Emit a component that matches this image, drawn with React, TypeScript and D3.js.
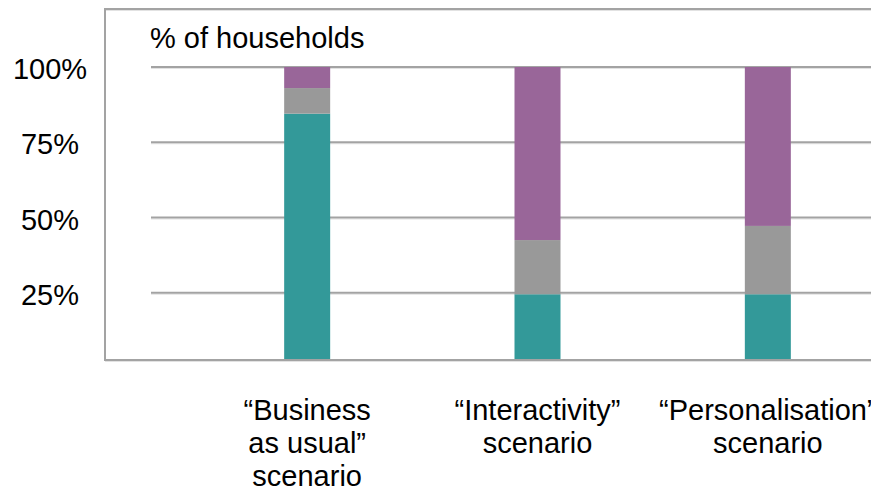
import React from "react";
import * as d3 from "d3";

const categories = ["bau", "interactivity", "personalisation"];
const categoryLabels = [
  ["\u201CBusiness", "as usual\u201D", "scenario"],
  ["\u201CInteractivity\u201D", "scenario"],
  ["\u201CPersonalisation\u201D", "scenario"],
];
const tealValues = [0.845, 0.245, 0.245];
const greyValues = [0.085, 0.18, 0.227];
const purpleValues = [0.07, 0.575, 0.528];
const seriesKeys = ["teal", "grey", "purple"];
const seriesColors = ["#339999", "#999999", "#996699"];
const yTicks = [0.25, 0.5, 0.75, 1];
const yTickLabels = ["25%", "50%", "75%", "100%"];
const axisTitle = "% of households";

const W = 871;
const H = 492;
const FONT = "'Liberation Sans', Arial, sans-serif";
const FS = 29;

export default function App() {
  const frameLeft = 105;
  const frameTop = 9;
  const frameBottom = 360;
  const gridLeft = 151;

  const y = d3.scaleLinear().domain([0, 1]).range([368, 67]);
  const x = d3.scalePoint<string>().domain(categories).range([192, 883]).padding(0.5);
  const barW = 46;

  const rows = categories.map((c, i) => ({
    cat: c,
    teal: tealValues[i],
    grey: greyValues[i],
    purple: purpleValues[i],
  }));
  const stack = d3.stack<any>().keys(seriesKeys)(rows);

  return (
    <svg
      width={W}
      height={H}
      style={{ position: "absolute", left: 0, top: 0, display: "block", background: "#fff" }}
      fontFamily={FONT}
    >
      <defs>
        <clipPath id="plotClip">
          <rect x={frameLeft} y={0} width={W - frameLeft} height={frameBottom - 1} />
        </clipPath>
      </defs>
      {/* gridlines */}
      {yTicks.map((t) => (
        <g key={t}>
          <line x1={gridLeft} x2={W} y1={y(t) + 1.5} y2={y(t) + 1.5} stroke="#e2e2e2" strokeWidth={1} />
          <line x1={gridLeft} x2={W} y1={y(t)} y2={y(t)} stroke="#a3a3a3" strokeWidth={2} />
        </g>
      ))}
      {/* frame */}
      <line x1={frameLeft} x2={W} y1={frameTop + 1.5} y2={frameTop + 1.5} stroke="#e2e2e2" strokeWidth={1} />
      <line x1={frameLeft} x2={W} y1={frameTop} y2={frameTop} stroke="#a3a3a3" strokeWidth={2} />
      <line x1={frameLeft} x2={frameLeft} y1={frameTop - 1} y2={frameBottom + 1} stroke="#a3a3a3" strokeWidth={2} />
      {/* bars */}
      <g clipPath="url(#plotClip)">
        {stack.map((s, si) =>
          s.map((d, i) => (
            <rect
              key={si + "-" + i}
              x={(x(categories[i]) as number) - barW / 2}
              y={y(d[1])}
              width={barW}
              height={y(d[0]) - y(d[1])}
              fill={seriesColors[si]}
            />
          ))
        )}
      </g>
      <line x1={frameLeft} x2={W} y1={frameBottom + 1.5} y2={frameBottom + 1.5} stroke="#e2e2e2" strokeWidth={1} />
      <line x1={frameLeft - 1} x2={W} y1={frameBottom} y2={frameBottom} stroke="#a3a3a3" strokeWidth={2} />
      {/* y labels */}
      {yTicks.map((t, i) => (
        <text key={t} x={50} y={y(t) + 12} textAnchor="middle" fontSize={FS} fill="#000">
          {yTickLabels[i]}
        </text>
      ))}
      <text x={150} y={48} fontSize={FS} fill="#000">
        {axisTitle}
      </text>
      {/* category labels */}
      {categoryLabels.map((lines, i) => (
        <text key={i} textAnchor="middle" fontSize={FS} fill="#000">
          {lines.map((ln, j) => (
            <tspan key={j} x={x(categories[i]) as number} y={420 + j * 33}>
              {ln}
            </tspan>
          ))}
        </text>
      ))}
    </svg>
  );
}
